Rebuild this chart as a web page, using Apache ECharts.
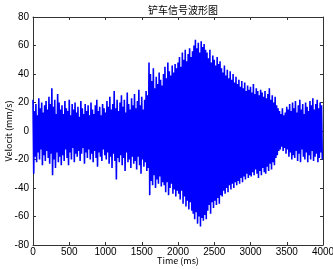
<!DOCTYPE html>
<html>
<head>
<meta charset="utf-8">
<script src="https://cdn.jsdelivr.net/npm/echarts@6/dist/echarts.min.js"></script>
<style>
  html, body { margin: 0; padding: 0; background: #fff; }
  #chart { width: 333px; height: 269px; }
</style>
</head>
<body>
<div id="chart"></div>
<script>
// time step between an upper peak and the next lower peak (ms)
const halfStep = 10

// upper peaks, one every 20 ms starting at 0 ms
const upperPeaks = [
  22, 14, 19, 11, 23, 16, 20, 13, 18, 21,
  15, 24, 19, 30, 17, 22, 12, 26, 20, 15,
  18, 12, 21, 16, 14, 22, 11, 19, 15, 20,
  13, 17, 10, 21, 16, 12, 19, 14, 18, 11,
  20, 15, 12, 18, 22, 14, 17, 11, 19, 16,
  13, 21, 17, 24, 15, 19, 28, 16, 22, 14,
  20, 25, 17, 22, 13, 27, 19, 15, 23, 18,
  26, 16, 21, 29, 18, 24, 15, 22, 28, 25,
  48, 40, 35, 44, 30, 38, 33, 41, 36, 32,
  40, 45, 37, 48, 42, 39, 46, 41, 47, 44,
  48, 52, 45, 55, 50, 57, 49, 54, 58, 52,
  56, 60, 64, 58, 62, 55, 63, 59, 61, 57,
  55, 51, 57, 48, 53, 50, 46, 52, 47, 49,
  44, 41, 46, 39, 43, 37, 42, 36, 40, 34,
  38, 33, 36, 31, 35, 30, 34, 28, 32, 29,
  31, 27, 33, 26, 30, 28, 25, 29, 27, 24,
  28, 23, 26, 30, 22, 25, 20, 24, 18, 16,
  14, 12, 16, 11, 13, 17, 15, 19, 14, 20,
  16, 21, 13, 18, 22, 15, 19, 12, 20, 17,
  14, 21, 18, 23, 15, 19, 22, 16, 20, 18
]

// lower peaks, one every 20 ms starting at 10 ms
const lowerPeaks = [
  -30, -18, -22, -15, -20, -13, -24, -17, -21, -14,
  -19, -23, -16, -31, -20, -26, -15, -22, -18, -24,
  -17, -21, -13, -19, -24, -15, -20, -12, -22, -16,
  -18, -14, -21, -16, -12, -23, -15, -19, -13, -20,
  -16, -22, -14, -19, -25, -15, -18, -21, -13, -17,
  -20, -15, -23, -18, -26, -16, -21, -34, -19, -22,
  -17, -24, -19, -28, -15, -22, -20, -26, -18, -23,
  -21, -27, -18, -24, -30, -20, -25, -22, -28, -26,
  -45, -35, -38, -31, -40, -34, -37, -32, -39, -36,
  -38, -43, -36, -45, -40, -37, -44, -41, -46, -42,
  -44, -48, -42, -51, -46, -53, -49, -55, -50, -56,
  -58, -62, -57, -65, -60, -67, -61, -63, -59, -62,
  -56, -52, -58, -50, -54, -49, -52, -47, -51, -45,
  -46, -42, -44, -40, -43, -38, -41, -37, -40, -36,
  -38, -35, -37, -33, -36, -32, -34, -30, -33, -31,
  -32, -29, -31, -27, -30, -33, -28, -31, -26, -29,
  -30, -25, -28, -23, -27, -22, -24, -19, -17, -14,
  -13, -11, -14, -12, -16, -13, -18, -15, -20, -17,
  -19, -14, -21, -16, -22, -13, -18, -20, -15, -22,
  -17, -20, -14, -21, -18, -16, -22, -19, -15, -20
]

const xTicks = [0, 500, 1000, 1500, 2000, 2500, 3000, 3500, 4000]
const yTicks = [-80, -60, -40, -20, 0, 20, 40, 60, 80]

const signal = []
for (let k = 0; k < upperPeaks.length; k++) {
  signal.push([2 * k * halfStep, upperPeaks[k]])
  signal.push([(2 * k + 1) * halfStep, lowerPeaks[k]])
}

const axisColor = '#333'
const labelFont = { color: '#000', fontSize: 10, fontFamily: 'Liberation Sans, Arial, sans-serif' }
const plain = v => String(v)

const chart = echarts.init(document.getElementById('chart'))
chart.setOption({
  animation: false,
  title: {
    text: '铲车信号波形图',
    left: 178,
    top: 0,
    textAlign: 'center',
    textStyle: { fontSize: 10, fontWeight: 'normal', color: '#000', fontFamily: 'Noto Sans CJK SC' }
  },
  grid: { left: 33, right: 10, top: 17, bottom: 24, outerBoundsMode: 'none' },
  xAxis: [{
    type: 'value',
    min: xTicks[0],
    max: xTicks[xTicks.length - 1],
    interval: 500,
    name: 'Time (ms)',
    nameLocation: 'middle',
    nameGap: 11,
    nameMoveOverlap: false,
    nameTextStyle: { color: '#000', fontSize: 9, fontFamily: 'Noto Sans CJK JP' },
    axisLine: { onZero: false, lineStyle: { color: axisColor, width: 1 } },
    axisTick: { inside: true, length: 3, lineStyle: { color: axisColor } },
    axisLabel: Object.assign({ margin: 2, formatter: plain }, labelFont),
    splitLine: { show: false }
  }, {
    type: 'value',
    position: 'top',
    min: xTicks[0],
    max: xTicks[xTicks.length - 1],
    interval: 500,
    axisLine: { show: true, onZero: false, lineStyle: { color: axisColor, width: 1 } },
    axisTick: { inside: true, length: 3, lineStyle: { color: axisColor } },
    axisLabel: { show: false },
    splitLine: { show: false }
  }],
  yAxis: [{
    type: 'value',
    min: yTicks[0],
    max: yTicks[yTicks.length - 1],
    interval: 20,
    name: 'Velocit (mm/s)',
    nameLocation: 'middle',
    nameGap: 20,
    nameMoveOverlap: false,
    nameTextStyle: { color: '#000', fontSize: 9, fontFamily: 'Noto Sans CJK JP' },
    axisLine: { show: true, onZero: false, lineStyle: { color: axisColor, width: 1 } },
    axisTick: { show: true, inside: true, length: 3, lineStyle: { color: axisColor } },
    axisLabel: Object.assign({ margin: 4, formatter: plain }, labelFont),
    splitLine: { show: false }
  }, {
    type: 'value',
    position: 'right',
    min: yTicks[0],
    max: yTicks[yTicks.length - 1],
    interval: 20,
    axisLine: { show: true, onZero: false, lineStyle: { color: axisColor, width: 1 } },
    axisTick: { show: true, inside: true, length: 3, lineStyle: { color: axisColor } },
    axisLabel: { show: false },
    splitLine: { show: false }
  }],
  series: [{
    type: 'line',
    data: signal,
    showSymbol: false,
    lineStyle: { color: '#0000ff', width: 1.6 },
    silent: true
  }]
})
</script>
</body>
</html>
